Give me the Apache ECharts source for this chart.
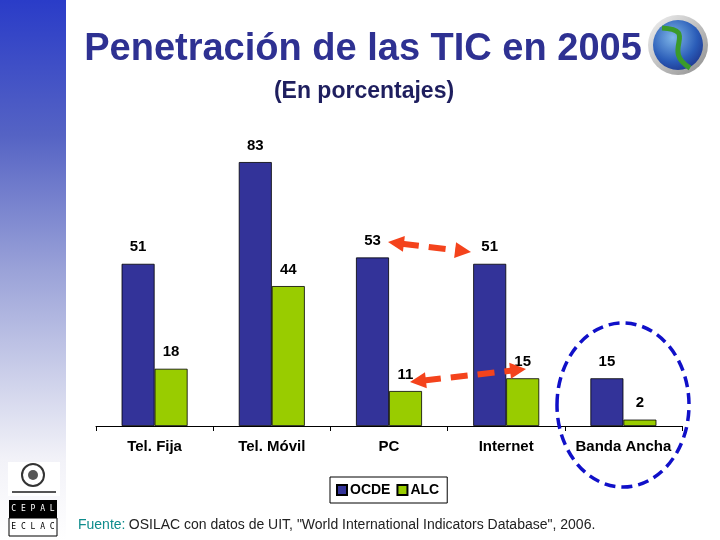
<!DOCTYPE html>
<html><head><meta charset="utf-8">
<script src="https://cdn.jsdelivr.net/npm/echarts@6/dist/echarts.min.js"></script>
<style>html,body{margin:0;padding:0;background:#fff}#c{width:720px;height:540px}</style>
</head><body><div id="c"></div>
<script>
var categories = ['Tel. Fija', 'Tel. Móvil', 'PC', 'Internet', 'Banda Ancha'];
var ocde = [51, 83, 53, 51, 15];
var alc = [18, 44, 11, 15, 2];
var seriesNames = ['OCDE', 'ALC'];

var F = 'Liberation Sans, Arial, sans-serif';
function arrowHead(tip, from, len, half, color) {
  var dx = tip[0] - from[0], dy = tip[1] - from[1];
  var d = Math.sqrt(dx * dx + dy * dy); dx /= d; dy /= d;
  var bx = tip[0] - dx * len, by = tip[1] - dy * len;
  return { type: 'polygon', shape: { points: [tip, [bx - dy * half, by + dx * half], [bx + dy * half, by - dx * half]] }, style: { fill: color }, z: 20 };
}
var RED = '#F4431C';
function dashedArrow(a, b) {
  var dx = b[0] - a[0], dy = b[1] - a[1], d = Math.sqrt(dx * dx + dy * dy);
  var ux = dx / d, uy = dy / d, L = 14;
  return [
    { type: 'line', shape: { x1: a[0] + ux * L, y1: a[1] + uy * L, x2: b[0] - ux * L, y2: b[1] - uy * L }, style: { stroke: RED, lineWidth: 6, lineDash: [17, 10] }, z: 20 },
    arrowHead(a, b, 16, 8, RED), arrowHead(b, a, 16, 8, RED)
  ];
}

var chart = echarts.init(document.getElementById('c'));
var graphics = [
  { type: 'rect', shape: { x: 0, y: 0, width: 66, height: 540 }, z: -10,
    style: { fill: new echarts.graphic.LinearGradient(0, 0, 0, 1, [
      { offset: 0, color: '#2a3cc8' }, { offset: 0.25, color: '#5563c4' }, { offset: 0.5, color: '#9aa2d8' },
      { offset: 0.72, color: '#d2d5ec' }, { offset: 0.85, color: '#f2f2f8' }, { offset: 1, color: '#ffffff' }]) } },
  // globe logo
  { type: 'circle', shape: { cx: 678, cy: 45, r: 30 }, style: { fill: new echarts.graphic.LinearGradient(0, 0, 1, 1, [{ offset: 0, color: '#f4f4f4' }, { offset: 1, color: '#8c8c8c' }]) }, z: 5 },
  { type: 'circle', shape: { cx: 678, cy: 45, r: 25 }, style: { fill: new echarts.graphic.RadialGradient(0.4, 0.35, 0.8, [{ offset: 0, color: '#7fb6e8' }, { offset: 0.6, color: '#2a5cb8' }, { offset: 1, color: '#1a2a80' }]) }, z: 6 },
  { type: 'bezierCurve', shape: { x1: 662, y1: 28, cpx1: 700, cpy1: 30, cpx2: 660, cpy2: 50, x2: 690, y2: 68 }, style: { stroke: '#3a9a2a', lineWidth: 5, fill: null }, z: 7 },
  // UN emblem
  { type: 'rect', shape: { x: 8, y: 462, width: 52, height: 34 }, style: { fill: '#fff' }, z: 5 },
  { type: 'circle', shape: { cx: 33, cy: 475, r: 11 }, style: { fill: '#fff', stroke: '#333', lineWidth: 2 }, z: 6 },
  { type: 'circle', shape: { cx: 33, cy: 475, r: 5 }, style: { fill: '#555' }, z: 6 },
  { type: 'rect', shape: { x: 12, y: 491, width: 44, height: 2 }, style: { fill: '#555' }, z: 6 },
  // CEPAL logo
  { type: 'rect', shape: { x: 9, y: 500, width: 48, height: 18 }, style: { fill: '#000' }, z: 5 },
  { type: 'text', x: 33, y: 509, style: { text: 'C E P A L', fill: '#fff', font: '8px DejaVu Sans Mono', align: 'center', verticalAlign: 'middle' }, z: 6 },
  { type: 'rect', shape: { x: 9, y: 518, width: 48, height: 18 }, style: { fill: '#fff', stroke: '#000', lineWidth: 1 }, z: 5 },
  { type: 'text', x: 33, y: 527, style: { text: 'E C L A C', fill: '#000', font: '8px DejaVu Sans Mono', align: 'center', verticalAlign: 'middle' }, z: 6 },
  // footnote
  { type: 'text', left: 78, top: 518, style: { rich: { a: { fill: '#0E8C8C', font: '14px ' + F }, b: { fill: '#222', font: '14px ' + F } },
      text: '{a|Fuente:} {b|OSILAC con datos de UIT, "World International Indicators Database", 2006.}' } },
  // ellipse
  { type: 'ellipse', shape: { cx: 623, cy: 405, rx: 66, ry: 82 }, style: { fill: null, stroke: '#1010C8', lineWidth: 3.5, lineDash: [11, 6] }, z: 15 }
].concat(dashedArrow([388, 242], [471, 252])).concat(dashedArrow([410, 382], [526, 369]));

chart.setOption({
  animation: false,
  backgroundColor: '#fff',
  title: [
    { text: 'Penetración de las TIC en 2005', left: 358, top: 26, textAlign: 'center', textStyle: { color: '#2E3192', fontSize: 38, fontWeight: 'bold', fontFamily: F } },
    { text: '(En porcentajes)', left: 359, top: 75, textAlign: 'center', textStyle: { color: '#1E1E5E', fontSize: 23, fontWeight: 'bold', fontFamily: F } }
  ],
  legend: { data: seriesNames, left: 330, top: 477, orient: 'horizontal', itemWidth: 10, itemHeight: 10, itemGap: 6, icon: 'rect',
    borderColor: '#000', borderWidth: 1, padding: [6, 8, 6, 6],
    textStyle: { fontFamily: F, fontSize: 14, fontWeight: 'bold', color: '#000', padding: [0, 0, 0, -2] } },
  grid: { left: 96, right: 38, top: 108, bottom: 114 },
  xAxis: { type: 'category', data: categories,
    axisLine: { lineStyle: { color: '#000', width: 1 } },
    axisTick: { show: true, interval: 0, length: 5, lineStyle: { color: '#000' } },
    axisLabel: { interval: 0, fontFamily: F, fontSize: 15, fontWeight: 'bold', color: '#000', margin: 13 } },
  yAxis: { type: 'value', min: 0, max: 100, show: false, splitLine: { show: false } },
  series: [
    { name: seriesNames[0], type: 'bar', data: ocde, barWidth: 33, barGap: '0%', itemStyle: { color: '#333399', borderColor: '#000', borderWidth: 0.8 },
      label: { show: true, position: 'top', distance: 9, fontFamily: F, fontSize: 15, fontWeight: 'bold', color: '#000' } },
    { name: seriesNames[1], type: 'bar', data: alc, barWidth: 33, barGap: '0%', itemStyle: { color: '#99CC00', borderColor: '#000', borderWidth: 0.8 },
      label: { show: true, position: 'top', distance: 9, fontFamily: F, fontSize: 15, fontWeight: 'bold', color: '#000' } }
  ],
  graphic: graphics
});
</script></body></html>
